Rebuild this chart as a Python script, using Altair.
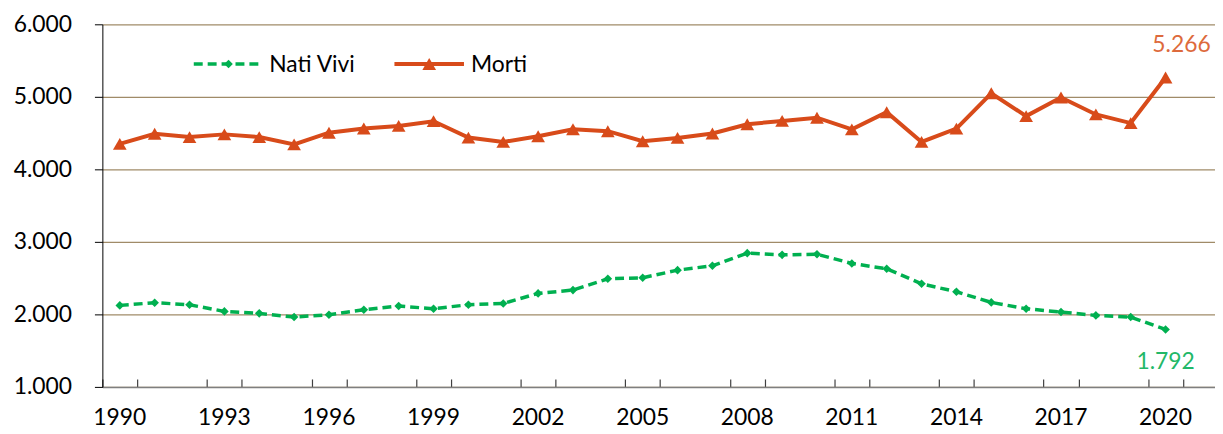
import altair as alt
import pandas as pd

years = list(range(1990, 2021))
nati_vivi = [2124, 2161, 2133, 2041, 2014, 1963, 1995, 2064, 2115, 2078,
             2133, 2151, 2289, 2335, 2491, 2505, 2610, 2670, 2844, 2821,
             2830, 2702, 2629, 2422, 2312, 2165, 2078, 2032, 1986, 1963, 1792]
morti = [4352, 4491, 4445, 4482, 4445, 4345, 4505, 4563, 4599, 4664,
         4438, 4378, 4456, 4553, 4526, 4387, 4433, 4494, 4622, 4668,
         4712, 4552, 4788, 4378, 4562, 5049, 4734, 4990, 4757, 4638, 5266]
y_ticks = [1000, 2000, 3000, 4000, 5000, 6000]
x_labels = list(range(1990, 2021, 3))
band_edges = [y - 0.5 for y in range(1990, 2022)]

GREEN = "#00b050"
ORANGE = "#d84b1a"
FONT = "Lato"
FS = 23

df_n = pd.DataFrame({"anno": years, "valore": nati_vivi})
df_m = pd.DataFrame({"anno": years, "valore": morti})
df_xlab = pd.DataFrame({"anno": x_labels})
df_last_m = df_m.tail(1)
df_last_n = df_n.tail(1)

W, H = 1120, 365
x_scale = alt.Scale(domain=[1989.5, 1989.5 + W / 35.09], nice=False, zero=False)
y_scale = alt.Scale(domain=[1000, 6000], nice=False, zero=False)

x_values = sorted([float(v) for v in band_edges + x_labels])
x_axis = alt.Axis(values=x_values, format="d",
                  labelExpr="''",
                  ticks=True, tickSize={"expr": "-8"}, tickColor="#404040", tickWidth=1.2,
                  tickOpacity={"condition": {"test": "(datum.value % 1) != 0", "value": 1}, "value": 0},
                  grid=False,
                  labelFont=FONT, labelFontSize=FS, labelColor="#000", labelPadding=32,
                  domainColor="#7f7f7f", domainWidth=1.5, title=None, labelFlush=False,
                  labelOverlap=False)
y_axis = alt.Axis(values=y_ticks, labelExpr="replace(format(datum.value, ','), ',', '.')",
                  grid=True, gridColor="#a08b68", gridWidth=1.2,
                  tickSize=8, tickColor="#000", tickWidth=1,
                  domainColor="#000", domainWidth=1,
                  labelFont=FONT, labelFontSize=FS, labelColor="#000", labelPadding=23,
                  title=None)

X = alt.X("anno:Q", scale=x_scale, axis=x_axis)
Y = alt.Y("valore:Q", scale=y_scale, axis=y_axis)
Xn = alt.X("anno:Q", scale=x_scale)
Yn = alt.Y("valore:Q", scale=y_scale)

line_n = alt.Chart(df_n).mark_line(color=GREEN, strokeWidth=3.5, strokeDash=[9, 5]).encode(x=X, y=Y)
pts_n = alt.Chart(df_n).mark_point(shape="diamond", filled=True, opacity=1, color=GREEN, size=75).encode(x=Xn, y=Yn)
line_m = alt.Chart(df_m).mark_line(color=ORANGE, strokeWidth=4).encode(x=Xn, y=Yn)
pts_m = alt.Chart(df_m).mark_point(shape="triangle-up", filled=True, opacity=1, color=ORANGE, size=190).encode(x=Xn, y=Yn)

# year labels centred on their categories, every third year
x_lab = alt.Chart(df_xlab).mark_text(
    font=FONT, fontSize=FS, color="#000", align="center", baseline="middle"
).encode(x=Xn, y=alt.value(H + 31), text=alt.Text("anno:Q", format="d"))

lab_m = alt.Chart(df_last_m).transform_calculate(
    lab="replace(format(datum.valore, ','), ',', '.')"
).mark_text(font=FONT, fontSize=FS, color="#dd6a3c", dx=16, dy=-33, align="center", baseline="middle").encode(
    x=Xn, y=Yn, text="lab:N")
lab_n = alt.Chart(df_last_n).transform_calculate(
    lab="replace(format(datum.valore, ','), ',', '.')"
).mark_text(font=FONT, fontSize=FS, color="#22b868", dx=0, dy=33, align="center", baseline="middle").encode(
    x=Xn, y=Yn, text="lab:N")

# manual legend
leg_df = pd.DataFrame({"k": [0]})
LY = 40
leg_n_line = alt.Chart(leg_df).mark_rule(color=GREEN, strokeWidth=3.5, strokeDash=[9, 5]).encode(
    x=alt.value(92), x2=alt.value(160), y=alt.value(LY))
leg_n_pt = alt.Chart(leg_df).mark_point(shape="diamond", filled=True, opacity=1, color=GREEN, size=75).encode(
    x=alt.value(127), y=alt.value(LY))
leg_n_txt = alt.Chart(leg_df).mark_text(font=FONT, fontSize=FS, color="#000", align="left", baseline="middle").encode(
    x=alt.value(168), y=alt.value(LY + 1), text=alt.value("Nati Vivi"))
leg_m_line = alt.Chart(leg_df).mark_rule(color=ORANGE, strokeWidth=4).encode(
    x=alt.value(294), x2=alt.value(364), y=alt.value(LY))
leg_m_pt = alt.Chart(leg_df).mark_point(shape="triangle-up", filled=True, opacity=1, color=ORANGE, size=190).encode(
    x=alt.value(329), y=alt.value(LY))
leg_m_txt = alt.Chart(leg_df).mark_text(font=FONT, fontSize=FS, color="#000", align="left", baseline="middle").encode(
    x=alt.value(371), y=alt.value(LY + 1), text=alt.value("Morti"))

chart = alt.layer(
    line_n, pts_n, line_m, pts_m, x_lab, lab_m, lab_n,
    leg_n_line, leg_n_pt, leg_n_txt, leg_m_line, leg_m_pt, leg_m_txt
).properties(
    width=W, height=H,
    autosize=alt.AutoSizeParams(type="none"),
    padding={"left": 95, "top": 15, "right": 0, "bottom": 46},
    background="white",
).configure_view(stroke=None)

chart.save("out.html", embed_options={"renderer": "svg", "actions": False})
